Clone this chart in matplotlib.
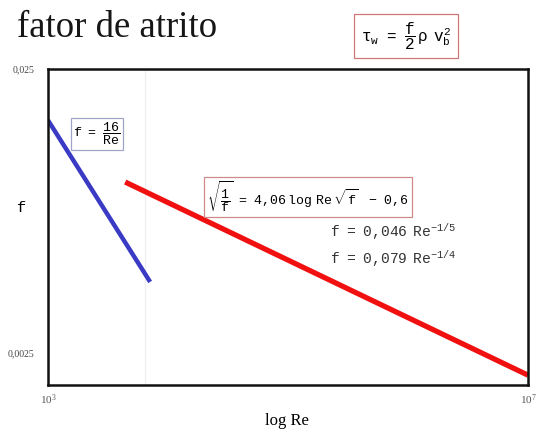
import matplotlib
matplotlib.use("Agg")
import matplotlib.pyplot as plt

plt.rcParams['mathtext.fontset'] = 'custom'
plt.rcParams['mathtext.rm'] = 'Liberation Mono'
plt.rcParams['mathtext.it'] = 'Liberation Mono'
plt.rcParams['mathtext.tt'] = 'Liberation Mono'
plt.rcParams['mathtext.fallback'] = 'cm'

SERIF = 'Liberation Serif'
MONO = 'Liberation Mono'

# laminar: f = 16/Re ; turbulento: correlações de Blasius / Prandtl
re_laminar = [1000, 7100]
f_laminar = [0.0165, 0.00445]
re_turb = [4400, 1e7]
f_turb = [0.0100, 0.00209]

x_ticks = [1e3, 1e7]
x_ticklabels = ['$\\mathregular{10^3}$', '$\\mathregular{10^7}$']
y_ticks = [0.0025, 0.025]
y_ticklabels = ['0,0025', '0,025']

W, H = 537, 433
fig = plt.figure(figsize=(W / 100, H / 100), dpi=100)
ax = fig.add_axes([48 / W, (H - 385) / H, 480 / W, 316 / H])

ax.set_xscale('log')
ax.set_yscale('log')
ax.set_xlim(1e3, 1e7)
ax.set_ylim(0.00193, 0.025)

ax.axvline(6400, color='#ececf2', lw=0.8, zorder=0)

ax.plot(re_laminar, f_laminar, color='#3a3ac4', lw=3.2, solid_capstyle='butt')
ax.plot(re_turb, f_turb, color='#f01010', lw=3.8, solid_capstyle='butt')

ax.minorticks_off()
ax.set_xticks(x_ticks)
ax.set_xticklabels(x_ticklabels, fontfamily=SERIF, fontsize=8, color='#555555')
ax.set_yticks(y_ticks)
ax.set_yticklabels(y_ticklabels, fontfamily=SERIF, fontsize=7, color='#444444')
ax.tick_params(axis='both', length=0)
ax.tick_params(axis='x', pad=5)
ax.tick_params(axis='y', pad=10)
for s in ax.spines.values():
    s.set_linewidth(1.8)
    s.set_color('#111111')

def fx(px):
    return px / W

def fy(py):
    return 1 - py / H

fig.text(fx(17), fy(28), 'fator de atrito', fontfamily=SERIF, fontsize=26.5,
         ha='left', va='center', color='#161616')
fig.text(fx(22), fy(208), 'f', fontfamily=MONO, fontsize=11, ha='center', va='center')
fig.text(fx(287), fy(421), 'log Re', fontfamily=SERIF, fontsize=12, ha='center', va='center')

fig.text(fx(406), fy(36), r'$\tau_{w}\ \ =\ \ \dfrac{f}{2}\,\rho\ \ v_{b}^{2}$', fontsize=11.5,
         ha='center', va='center',
         bbox=dict(boxstyle='square,pad=0.4', fc='white', ec='#d07878', lw=0.9))
fig.text(fx(97), fy(134), r'$f\ \ =\ \ \dfrac{16}{\mathrm{Re}}$', fontsize=9.5,
         ha='center', va='center',
         bbox=dict(boxstyle='square,pad=0.2', fc='white', ec='#a0a4c8', lw=0.9))
fig.text(fx(308), fy(197),
         r'$\sqrt{\dfrac{1}{f}}\ \ =\ \ 4{,}06\ \log\ \mathrm{Re}\ \sqrt{f}\ \ \ \ -\ \ 0{,}6$',
         fontsize=9.5, ha='center', va='center',
         bbox=dict(boxstyle='square,pad=0.2', fc='white', ec='#d08888', lw=0.9))
fig.text(fx(330), fy(232), r'$f\ \ =\ \ 0{,}046\ \ \mathrm{Re}^{-1/5}$', fontsize=10.5,
         ha='left', va='center', color='#333333')
fig.text(fx(330), fy(259), r'$f\ \ =\ \ 0{,}079\ \ \mathrm{Re}^{-1/4}$', fontsize=10.5,
         ha='left', va='center', color='#333333')

fig.savefig('out.png', dpi=100, facecolor='white')
